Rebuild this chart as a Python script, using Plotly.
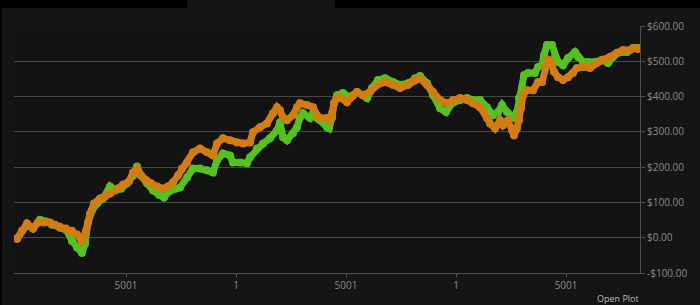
import plotly.graph_objects as go

# trade index (record number) and cumulative P&L in dollars
green_x = [45, 500, 773, 1091, 1363, 1636, 2000, 2318, 2545, 2773, 3000, 3136, 3272, 3454, 3681, 3954,
           4272, 4500, 4772, 5045, 5318, 5500, 5681, 5954, 6227, 6500, 6727, 6954, 7227, 7454, 7772, 8045,
           8363, 8681, 8954, 9136, 9408, 9726, 9863, 10181, 10499, 10635, 10954, 11226, 11544, 11862, 11999,
           12135, 12317, 12590, 12771, 12908, 13044, 13362, 13499, 13680, 13817, 14135, 14226, 14362, 14453,
           14589, 14862, 15180, 15498, 15771, 15953, 16180, 16453, 16771, 17135, 17453, 17816, 18135, 18362,
           18680, 18953, 19271, 19544, 19817, 20180, 20498, 20771, 21089, 21407, 21680, 21907, 22089, 22316,
           22543, 22680, 22770, 22861, 22998, 23089, 23270, 23589, 23725, 23907, 23998, 24134, 24361, 24497,
           24634, 24861, 25088, 25407, 25543, 25770, 25998, 26315, 26634, 26906, 27133, 27360, 27770, 28042, 28269]
green_y = [-3, 37, 26, 51, 46, 37, 28, 20, -9, -28, -43, -17, 43, 77, 97, 111,
           145, 134, 139, 154, 176, 202, 176, 154, 134, 122, 114, 131, 139, 142, 171, 196,
           196, 191, 185, 219, 239, 233, 213, 213, 211, 228, 253, 267, 282, 304, 327,
           285, 276, 296, 313, 341, 353, 339, 353, 339, 333, 313, 310, 341, 381,
           404, 410, 398, 413, 404, 396, 424, 447, 452, 441, 433, 438, 452, 458,
           438, 404, 367, 356, 381, 390, 396, 390, 390, 370, 347, 356, 376, 356,
           341, 339, 356, 396, 424, 461, 467, 467, 484, 489, 518, 546, 546, 512,
           498, 489, 509, 526, 512, 498, 498, 498, 504, 495, 512, 524, 526, 538, 538]

orange_x = [45, 273, 500, 773, 1000, 1273, 1545, 1773, 2000, 2273, 2545, 2773, 3000, 3182, 3363, 3545,
            3818, 4045, 4272, 4590, 4863, 5136, 5318, 5500, 5681, 5909, 6136, 6409, 6681, 6909, 7136, 7363,
            7545, 7772, 8045, 8363, 8681, 8954, 9136, 9408, 9726, 10044, 10317, 10635, 10772, 11090, 11408,
            11681, 11862, 11999, 12135, 12317, 12590, 12771, 12908, 13226, 13499, 13680, 13817, 14135, 14271,
            14362, 14453, 14589, 14726, 15044, 15317, 15498, 15771, 16089, 16407, 16771, 17135, 17453, 17816,
            18135, 18362, 18680, 18953, 19271, 19589, 19862, 20180, 20498, 20771, 21089, 21407, 21544, 21771,
            21998, 22134, 22361, 22543, 22634, 22770, 22861, 22952, 23043, 23225, 23498, 23725, 23907, 24043,
            24179, 24316, 24452, 24634, 24861, 25088, 25316, 25497, 25770, 26088, 26406, 26679, 26997, 27315,
            27588, 27906, 28133, 28269]
orange_y = [-3, 20, 40, 26, 43, 43, 43, 37, 31, 26, 20, 9, -11, 20, 68, 97,
            111, 117, 125, 139, 151, 159, 185, 196, 176, 162, 154, 145, 139, 145, 157, 176,
            196, 213, 242, 253, 242, 233, 267, 282, 276, 270, 267, 270, 299, 313, 324,
            353, 370, 361, 341, 333, 347, 370, 381, 376, 370, 347, 339, 339, 333,
            353, 381, 396, 398, 384, 404, 413, 404, 413, 433, 441, 433, 424, 433,
            447, 452, 433, 413, 390, 381, 390, 396, 390, 381, 370, 339, 324, 310,
            333, 319, 333, 304, 290, 310, 333, 367, 404, 418, 418, 441, 441, 484,
            504, 498, 470, 455, 447, 455, 467, 481, 484, 481, 495, 504, 512, 524,
            532, 532, 538, 535]

x_tickvals = [5000, 10000, 15000, 20000, 25000]
x_ticktext = ["5001", "1", "5001", "1", "5001"]
y_tickvals = [-100, 0, 100, 200, 300, 400, 500, 600]
y_ticktext = ["-$100.00", "$0.00", "$100.00", "$200.00", "$300.00", "$400.00", "$500.00", "$600.00"]

GREEN = "#55c21f"
ORANGE = "#d27c12"

fig = go.Figure()
fig.add_trace(go.Scatter(x=green_x, y=green_y, mode="lines+markers",
                         line=dict(color=GREEN, width=7), marker=dict(color=GREEN, size=8),
                         showlegend=False, hoverinfo="skip"))
fig.add_trace(go.Scatter(x=orange_x, y=orange_y, mode="lines+markers",
                         line=dict(color=ORANGE, width=7), marker=dict(color=ORANGE, size=8),
                         showlegend=False, hoverinfo="skip"))

AX = "#505050"
fig.update_layout(
    width=700, height=305,
    margin=dict(l=14, r=60, t=26, b=32),
    paper_bgcolor="#151515", plot_bgcolor="#131313",
    font=dict(family="Open Sans", size=10, color="#8a8a8a"),
    xaxis=dict(range=[-91, 28360], tickvals=x_tickvals, ticktext=x_ticktext,
               showgrid=False, zeroline=False, showline=True, linecolor=AX, linewidth=1,
               ticks="outside", ticklen=3, tickcolor=AX),
    yaxis=dict(range=[-100, 600], side="right", tickvals=y_tickvals, ticktext=y_ticktext,
               showgrid=True, gridcolor="#474747", gridwidth=1, zeroline=False,
               showline=True, linecolor=AX, linewidth=1,
               ticks="outside", ticklen=4, tickcolor=AX),
    shapes=[
        dict(type="rect", xref="paper", yref="paper", x0=-0.03, x1=0.2764, y0=1.073, y1=1.2,
             fillcolor="#000000", line=dict(width=0), layer="below"),
        dict(type="rect", xref="paper", yref="paper", x0=0.5128, x1=1.2, y0=1.073, y1=1.2,
             fillcolor="#000000", line=dict(width=0), layer="below"),
        dict(type="rect", xref="paper", yref="paper", x0=-0.03, x1=-0.0192, y0=-0.2, y1=1.2,
             fillcolor="#000000", line=dict(width=0), layer="below"),
    ],
    annotations=[dict(text="Open Plot", xref="paper", yref="paper", x=0.965, y=-0.07,
                      xanchor="center", yanchor="top", showarrow=False,
                      font=dict(size=9, color="#bbbbbb"))],
)

fig.write_html("out.html")
